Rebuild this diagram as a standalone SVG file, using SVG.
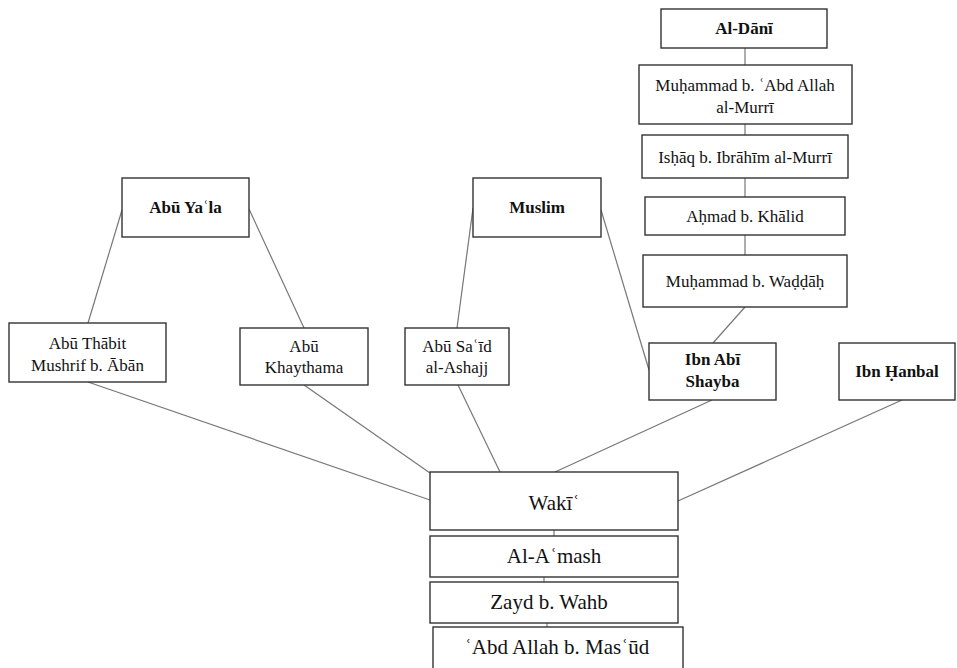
<svg xmlns="http://www.w3.org/2000/svg" width="957" height="668" viewBox="0 0 957 668">
<style>
.n rect{fill:#fff;stroke:#333;stroke-width:1.4}
.n text{font-family:"Liberation Serif","Times New Roman",serif;font-size:17px;fill:#111;text-anchor:middle}
.n text.b{font-weight:bold}
.n text.l{font-size:21px}
#edges line{stroke:#777;stroke-width:1.2}
</style>
<rect width="957" height="668" fill="#fff"/>
<g id="edges">
<line x1="745" y1="48" x2="745" y2="65"/>
<line x1="745" y1="124" x2="745" y2="135"/>
<line x1="745" y1="178" x2="745" y2="197"/>
<line x1="745" y1="235" x2="745" y2="255"/>
<line x1="745" y1="307" x2="713" y2="343"/>
<line x1="122" y1="210" x2="88" y2="323"/>
<line x1="249" y1="209" x2="304" y2="328"/>
<line x1="473" y1="208" x2="457" y2="328"/>
<line x1="601" y1="210" x2="649" y2="370"/>
<line x1="88" y1="382" x2="430" y2="500"/>
<line x1="304" y1="385" x2="430" y2="473"/>
<line x1="458" y1="385" x2="500" y2="472"/>
<line x1="712" y1="400" x2="555" y2="472"/>
<line x1="902" y1="400" x2="678" y2="501"/>
<line x1="554" y1="530" x2="554" y2="536"/>
<line x1="544" y1="577" x2="544" y2="582"/>
<line x1="547" y1="623" x2="547" y2="627"/>
</g>
<g id="aldani" class="n"><rect x="661" y="9" width="166" height="39"/><text class="b" x="744" y="34">Al-Dānī</text></g>
<g id="murri1" class="n"><rect x="639" y="65" width="213" height="59"/><text x="745" y="91">Muḥammad b. ʿAbd Allah</text><text x="745" y="113">al-Murrī</text></g>
<g id="ishaq" class="n"><rect x="642" y="135" width="206" height="43"/><text x="745" y="163">Isḥāq b. Ibrāhīm al-Murrī</text></g>
<g id="ahmad" class="n"><rect x="645" y="197" width="200" height="38"/><text x="745" y="222">Aḥmad b. Khālid</text></g>
<g id="waddah" class="n"><rect x="643" y="255" width="204" height="52"/><text x="745" y="287">Muḥammad b. Waḍḍāḥ</text></g>
<g id="abuyala" class="n"><rect x="122" y="178" width="127" height="59"/><text class="b" x="185.5" y="213">Abū Yaʿla</text></g>
<g id="muslim" class="n"><rect x="473" y="178" width="128" height="59"/><text class="b" x="537" y="213">Muslim</text></g>
<g id="abuthabit" class="n"><rect x="9" y="323" width="157" height="59"/><text x="87.5" y="349">Abū Thābit</text><text x="87.5" y="371">Mushrif b. Ābān</text></g>
<g id="abukhaythama" class="n"><rect x="240" y="328" width="128" height="57"/><text x="304" y="352">Abū</text><text x="304" y="373">Khaythama</text></g>
<g id="abusaid" class="n"><rect x="405" y="328" width="104" height="57"/><text x="457" y="352">Abū Saʿīd</text><text x="457" y="373">al-Ashajj</text></g>
<g id="ibnabishayba" class="n"><rect x="649" y="343" width="127" height="57"/><text class="b" x="712.5" y="365">Ibn Abī</text><text class="b" x="712.5" y="387">Shayba</text></g>
<g id="ibnhanbal" class="n"><rect x="839" y="343" width="116" height="57"/><text class="b" x="897" y="377">Ibn Ḥanbal</text></g>
<g id="waki" class="n"><rect x="430" y="472" width="248" height="58"/><text class="l" x="554" y="510">Wakīʿ</text></g>
<g id="amash" class="n"><rect x="430" y="536" width="248" height="41"/><text class="l" x="554" y="563">Al-Aʿmash</text></g>
<g id="zayd" class="n"><rect x="430" y="582" width="248" height="41"/><text class="l" x="549" y="609">Zayd b. Wahb</text></g>
<g id="abdallah" class="n"><rect x="433" y="627" width="250" height="50"/><text class="l" x="557" y="654">ʿAbd Allah b. Masʿūd</text></g>
</svg>
